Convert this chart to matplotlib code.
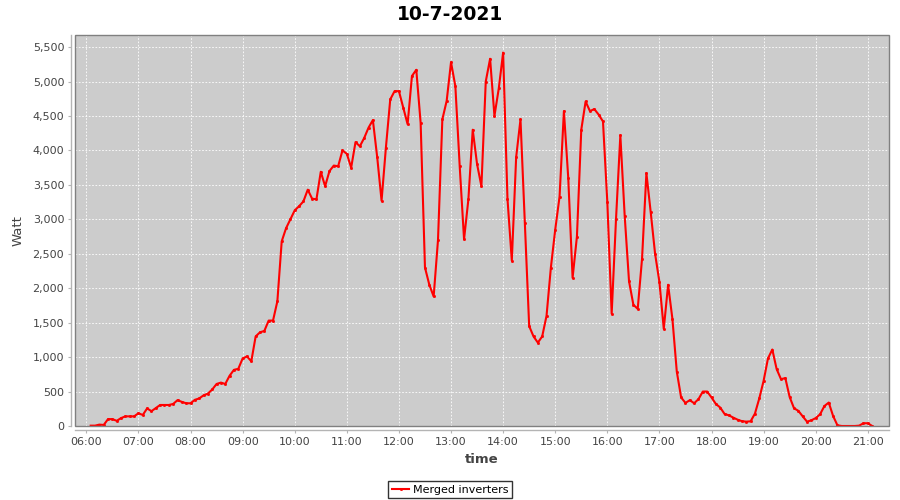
import matplotlib
matplotlib.use('Agg')
import matplotlib.pyplot as plt
import matplotlib.dates as mdates
from matplotlib.ticker import FuncFormatter, MultipleLocator
from matplotlib.patches import Rectangle
import pandas as pd

# 10-7-2021, 5분 간격 측정값 (06:05 ~ 21:05)
title = '10-7-2021'
series_name = 'Merged inverters'
start_time = '2021-07-10 06:05'

watt = [
    5, 5, 20, 15, 100, 100, 75, 115, 140, 140, 140,                      # 06:05
    185, 160, 255, 215, 260, 305, 305, 305, 320, 375, 350, 330,          # 07:00
    330, 380, 400, 445, 470, 530, 610, 630, 610, 730, 815, 830,          # 08:00
    980, 1010, 940, 1300, 1360, 1380, 1530, 1530, 1810, 2680, 2870, 3000,  # 09:00
    3130, 3190, 3260, 3430, 3300, 3290, 3690, 3480, 3700, 3780, 3770, 4000,  # 10:00
    3950, 3750, 4120, 4060, 4180, 4330, 4440, 3900, 3270, 4040, 4740, 4860,  # 11:00
    4860, 4620, 4380, 5080, 5170, 4400, 2300, 2050, 1880, 2700, 4450, 4720,  # 12:00
    5280, 4930, 3770, 2710, 3290, 4300, 3800, 3480, 5000, 5330, 4500, 4900,  # 13:00
    5420, 3300, 2400, 3900, 4450, 2950, 1450, 1300, 1210, 1300, 1600, 2300,  # 14:00
    2850, 3330, 4570, 3600, 2150, 2750, 4300, 4710, 4570, 4600, 4520, 4420,  # 15:00
    3250, 1630, 3000, 4220, 3050, 2100, 1760, 1700, 2430, 3670, 3100, 2500,  # 16:00
    2090, 1410, 2050, 1550, 790, 414, 335, 375, 330, 390, 500, 500,      # 17:00
    414, 320, 268, 175, 155, 122, 92, 70, 63, 68, 180, 400,              # 18:00
    657, 980, 1110, 826, 680, 695, 420, 258, 220, 140, 63, 83,           # 19:00
    115, 170, 290, 340, 146, 10, 0, 0, 0, 0, 5, 40,                      # 20:00
    40, 0,                                                               # 21:00
]
times = pd.date_range(start_time, periods=len(watt), freq='5min')

fig = plt.figure(figsize=(9, 5), dpi=100)
ax = fig.add_axes([0.0837, 0.148, 0.9037, 0.782])

ax.plot(times, watt, color='#ff0000', lw=1.5, marker='s', markersize=1.0,
        solid_joinstyle='round', label=series_name, zorder=3)

ax.set_facecolor('#cccccc')
ax.set_xlim(pd.Timestamp('2021-07-10 05:47:20'), pd.Timestamp('2021-07-10 21:24:00'))
ax.set_ylim(0, 5675)

ax.yaxis.set_major_locator(MultipleLocator(500))
ax.yaxis.set_major_formatter(FuncFormatter(lambda v, p: f'{int(v):,}'))
ax.xaxis.set_major_locator(mdates.HourLocator())
ax.xaxis.set_major_formatter(mdates.DateFormatter('%H:%M'))

ax.grid(True, color='white', lw=0.6, ls=(0, (2, 2)))
ax.set_axisbelow(True)

# 축선은 살짝 떨어뜨려서 (JFreeChart 느낌)
for s in ['top', 'right']:
    ax.spines[s].set_visible(False)
for s in ['left', 'bottom']:
    ax.spines[s].set_position(('outward', 3))
    ax.spines[s].set_color('#b4b4b4')
    ax.spines[s].set_linewidth(1)
ax.add_patch(Rectangle((0, 0), 1, 1, transform=ax.transAxes, fill=False,
                       edgecolor='#808080', lw=1, clip_on=False, zorder=5))

ax.tick_params(axis='both', labelsize=8, colors='#444444', length=2, width=0.8, pad=3)
ax.tick_params(axis='both', color='#b4b4b4')

ax.set_xlabel('time', fontsize=9.5, fontweight='bold', color='#444444')
ax.set_ylabel('Watt', fontsize=9.5, color='#444444')
ax.xaxis.set_label_coords(0.5, -0.069)
ax.yaxis.set_label_coords(-0.062, 0.5)

fig.suptitle(title, x=0.5, y=0.99, fontsize=13.5, fontweight='bold')

leg = fig.legend(loc='lower center', bbox_to_anchor=(0.5, 0.004), fontsize=8,
                 frameon=True, fancybox=False, handlelength=1.6, handletextpad=0.3,
                 borderpad=0.3, borderaxespad=0)
leg.get_frame().set_edgecolor('black')
leg.get_frame().set_linewidth(1)

fig.savefig('out.png', dpi=100)
